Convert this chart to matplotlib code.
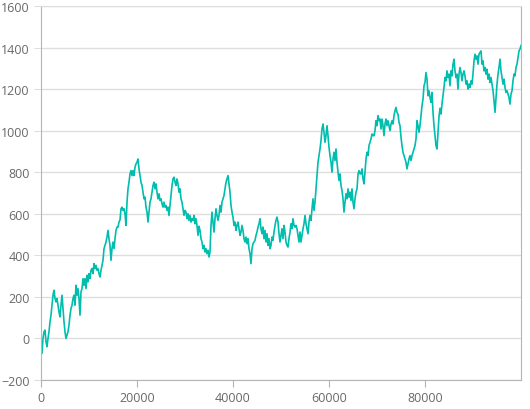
import matplotlib
matplotlib.use('Agg')
import matplotlib.pyplot as plt
import numpy as np

# walk values, one per pixel column (x spans 0..100000)
values = [
    -8, -72, 0, 32, 40, -16, -40, 0, 32, 80, 112, 160, 208, 232, 192, 176, 192, 160, 128, 104,
    160, 208, 144, 80, 32, 0, 16, 32, 64, 112, 144, 160, 192, 208, 160, 256, 208, 240, 192, 112,
    224, 240, 288, 256, 288, 240, 304, 272, 312, 288, 328, 336, 312, 360, 336, 352, 328, 336, 312, 296,
    328, 352, 376, 432, 448, 464, 488, 520, 480, 448, 376, 432, 464, 432, 480, 520, 536, 536, 560, 570,
    624, 632, 616, 624, 600, 544, 656, 720, 752, 792, 808, 784, 808, 784, 824, 840, 848, 864, 816, 784,
    752, 736, 704, 672, 680, 632, 608, 560, 608, 656, 672, 704, 736, 752, 720, 744, 704, 672, 696, 664,
    672, 648, 632, 656, 632, 640, 616, 632, 592, 640, 688, 736, 768, 776, 752, 736, 768, 744, 704, 720,
    672, 656, 624, 592, 616, 608, 576, 600, 568, 592, 560, 576, 568, 592, 552, 576, 544, 496, 540, 520,
    480, 464, 432, 448, 416, 432, 408, 424, 392, 416, 544, 608, 560, 512, 576, 624, 592, 568, 592, 640,
    608, 656, 672, 688, 720, 752, 768, 784, 744, 704, 640, 608, 584, 544, 560, 520, 544, 560, 528, 496,
    512, 544, 520, 480, 464, 488, 456, 480, 432, 408, 360, 432, 456, 464, 472, 496, 512, 536, 552, 576,
    528, 504, 536, 480, 520, 464, 504, 448, 480, 432, 448, 488, 472, 512, 544, 568, 584, 560, 504, 464,
    496, 528, 480, 544, 512, 464, 448, 440, 480, 512, 552, 528, 576, 544, 536, 544, 528, 496, 464, 512,
    464, 496, 528, 552, 592, 552, 528, 504, 560, 592, 568, 624, 672, 616, 656, 720, 784, 848, 880, 912,
    952, 1008, 1032, 992, 944, 976, 1024, 976, 920, 880, 848, 800, 864, 896, 856, 912, 848, 800, 760, 792,
    736, 712, 672, 608, 656, 696, 672, 720, 680, 704, 664, 720, 656, 624, 672, 704, 720, 790, 808, 792,
    792, 816, 768, 744, 800, 864, 896, 880, 928, 944, 960, 984, 976, 976, 1000, 1048, 1024, 1072, 1048, 1056,
    1008, 1056, 1024, 976, 1032, 1056, 1024, 1048, 1024, 1000, 1032, 1048, 1032, 1072, 1096, 1112, 1088, 1080, 1040, 1024,
    968, 928, 896, 880, 864, 848, 816, 840, 864, 880, 856, 880, 896, 912, 928, 960, 1048, 1024, 992, 1024,
    1072, 1120, 1152, 1216, 1232, 1280, 1248, 1168, 1192, 1160, 1136, 1184, 1088, 1024, 976, 928, 912, 992, 1068, 1108,
    1080, 1128, 1168, 1208, 1256, 1240, 1288, 1256, 1272, 1216, 1288, 1264, 1320, 1344, 1288, 1256, 1272, 1200, 1272, 1304,
    1280, 1240, 1272, 1288, 1264, 1224, 1240, 1200, 1224, 1208, 1240, 1224, 1272, 1336, 1368, 1344, 1360, 1320, 1368, 1376,
    1384, 1320, 1336, 1288, 1304, 1272, 1296, 1248, 1272, 1232, 1256, 1224, 1192, 1144, 1088, 1160, 1224, 1272, 1304, 1344,
    1288, 1256, 1224, 1248, 1208, 1184, 1192, 1176, 1160, 1128, 1176, 1192, 1240, 1272, 1264, 1304, 1320, 1352, 1384, 1392,
    1410]

x_ticks = [0, 20000, 40000, 60000, 80000]
y_ticks = [-200, 0, 200, 400, 600, 800, 1000, 1200, 1400, 1600]

xs = np.linspace(0, 100000, len(values))

plt.rcParams['font.family'] = ['Open Sans', 'DejaVu Sans']
fig = plt.figure(figsize=(5.3, 4.1), dpi=100)
ax = fig.add_axes([41 / 530, 29 / 410, 480 / 530, 374 / 410])
ax.plot(xs, values, color='#00bdae', linewidth=1.2)

ax.set_xlim(0, 100000)
ax.set_ylim(-200, 1600)
ax.set_xticks(x_ticks)
ax.set_yticks(y_ticks)
ax.grid(axis='y', color='#dedede', linewidth=1)
ax.set_axisbelow(True)
for s in ['left', 'bottom', 'right']:
    ax.spines[s].set_color('#b5b5b5')
ax.spines['top'].set_color('#dedede')
ax.tick_params(axis='y', length=5, color='#dedede', labelsize=9, labelcolor='#686868', pad=3)
ax.tick_params(axis='x', length=5, color='#b5b5b5', labelsize=9, labelcolor='#686868', pad=3)

fig.savefig('out.png')
